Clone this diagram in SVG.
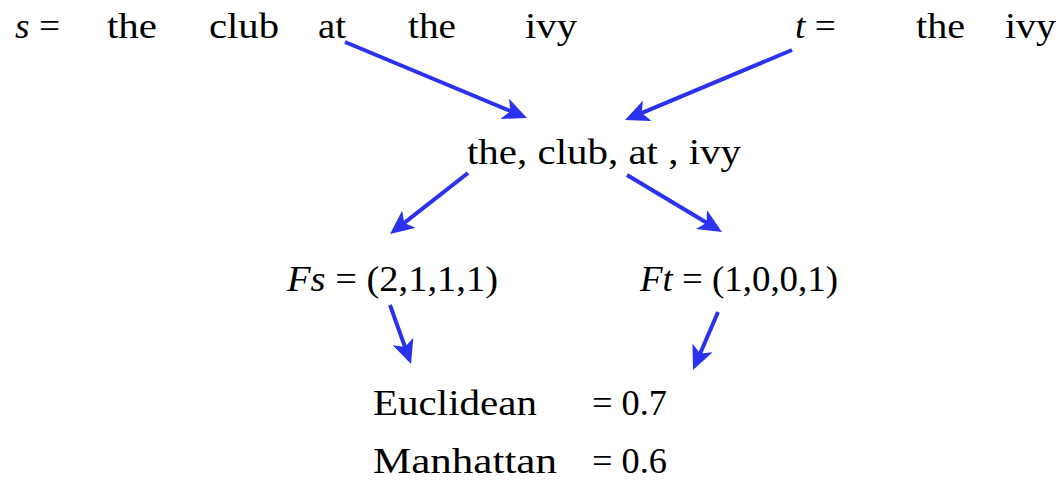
<svg xmlns="http://www.w3.org/2000/svg" width="1061" height="480" viewBox="0 0 1061 480">
<style>
text{font-family:"Liberation Serif","Times New Roman",serif;font-size:35px;fill:#000}
.i{font-style:italic}
.c{fill:none;stroke:#2a32ee;stroke-width:4}
</style>
<defs>
<marker id="ah" markerUnits="userSpaceOnUse" markerWidth="24" markerHeight="22" viewBox="0 0 24 22" refX="12" refY="11" orient="auto">
<path d="M0,0 L24,11 L0,22 L6,11 z" fill="#2a32ee"/>
</marker>
</defs>
<rect width="1061" height="480" fill="#fff"/>
<g id="s-row">
<text x="15" y="38" textLength="45" lengthAdjust="spacingAndGlyphs"><tspan class="i">s</tspan> =</text>
<text x="107" y="38" textLength="50" lengthAdjust="spacingAndGlyphs">the</text>
<text x="209" y="38" textLength="70" lengthAdjust="spacingAndGlyphs">club</text>
<text x="318" y="38" textLength="28" lengthAdjust="spacingAndGlyphs">at</text>
<text x="408" y="38" textLength="48" lengthAdjust="spacingAndGlyphs">the</text>
<text x="525" y="38" textLength="52" lengthAdjust="spacingAndGlyphs">ivy</text>
</g>
<g id="t-row">
<text x="795" y="38" textLength="41" lengthAdjust="spacingAndGlyphs"><tspan class="i">t</tspan> =</text>
<text x="916" y="38" textLength="49" lengthAdjust="spacingAndGlyphs">the</text>
<text x="1005" y="38" textLength="51" lengthAdjust="spacingAndGlyphs">ivy</text>
</g>
<g id="vocab">
<text x="467" y="164" textLength="274" lengthAdjust="spacingAndGlyphs">the, club, at , ivy</text>
</g>
<g id="fs">
<text x="287" y="291" textLength="211" lengthAdjust="spacingAndGlyphs"><tspan class="i">Fs</tspan> = (2,1,1,1)</text>
</g>
<g id="ft">
<text x="640" y="291" textLength="198" lengthAdjust="spacingAndGlyphs"><tspan class="i">Ft</tspan> = (1,0,0,1)</text>
</g>
<g id="euclidean">
<text x="373" y="415" textLength="164" lengthAdjust="spacingAndGlyphs">Euclidean</text>
<text x="592" y="415" textLength="75" lengthAdjust="spacingAndGlyphs">= 0.7</text>
</g>
<g id="manhattan">
<text x="373" y="473" textLength="184" lengthAdjust="spacingAndGlyphs">Manhattan</text>
<text x="592" y="473" textLength="75" lengthAdjust="spacingAndGlyphs">= 0.6</text>
</g>
<g id="connectors">
<line class="c" x1="345" y1="42" x2="515.9" y2="113.4" marker-end="url(#ah)"/>
<line class="c" x1="792" y1="50" x2="636.1" y2="115.4" marker-end="url(#ah)"/>
<line class="c" x1="468" y1="173" x2="399.5" y2="226.6" marker-end="url(#ah)"/>
<line class="c" x1="627" y1="175" x2="711.7" y2="225.8" marker-end="url(#ah)"/>
<line class="c" x1="390" y1="305" x2="407" y2="352.7" marker-end="url(#ah)"/>
<line class="c" x1="718" y1="312" x2="697.8" y2="359" marker-end="url(#ah)"/>
</g>
</svg>
